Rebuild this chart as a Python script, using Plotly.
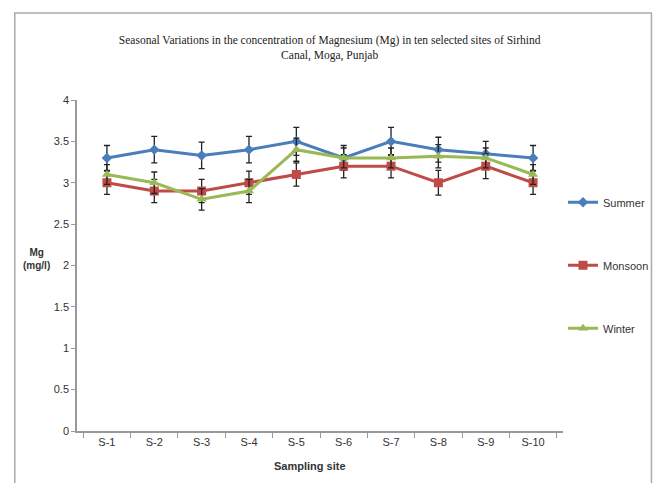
import plotly.graph_objects as go

sites = ["S-1", "S-2", "S-3", "S-4", "S-5", "S-6", "S-7", "S-8", "S-9", "S-10"]
summer = [3.30, 3.40, 3.33, 3.40, 3.50, 3.30, 3.50, 3.40, 3.35, 3.30]
monsoon = [3.00, 2.90, 2.90, 3.00, 3.10, 3.20, 3.20, 3.00, 3.20, 3.00]
winter = [3.10, 3.00, 2.80, 2.90, 3.40, 3.30, 3.30, 3.32, 3.30, 3.10]
summer_err = [0.15, 0.16, 0.16, 0.16, 0.17, 0.15, 0.17, 0.15, 0.15, 0.15]
monsoon_err = [0.14, 0.14, 0.14, 0.14, 0.14, 0.14, 0.14, 0.15, 0.15, 0.14]
winter_err = [0.12, 0.13, 0.13, 0.14, 0.14, 0.12, 0.12, 0.14, 0.12, 0.12]

series = [
    ("Summer", summer, summer_err, "#4a7ebb", "diamond", 8),
    ("Monsoon", monsoon, monsoon_err, "#be4b48", "square", 9),
    ("Winter", winter, winter_err, "#98b954", "triangle-up", 9),
]

fig = go.Figure()
for name, vals, err, col, sym, sz in series:
    fig.add_trace(go.Scatter(
        x=sites, y=vals, name=name, mode="lines+markers", legendgroup=name,
        line=dict(color=col, width=3),
        marker=dict(symbol=sym, size=sz, color=col),
        error_y=dict(type="data", array=err, visible=True, color="#222222",
                     thickness=1.3, width=3),
    ))

fig.update_layout(
    width=666, height=483,
    margin=dict(l=77, r=98, t=100, b=52),
    paper_bgcolor="white", plot_bgcolor="white",
    showlegend=True,
    legend=dict(x=1.0, xanchor="left", y=0.735, yanchor="top",
                font=dict(family="Liberation Sans Narrow, Liberation Sans, sans-serif", size=11, color="#333"),
                tracegroupgap=44, itemwidth=30, bgcolor="rgba(0,0,0,0)"),
    title=dict(text="Seasonal Variations in the concentration of Magnesium (Mg) in ten selected sites of Sirhind<br>Canal, Moga, Punjab",
               x=0.495, xanchor="center", y=0.908, yanchor="middle",
               font=dict(family="Liberation Serif, serif", size=11.5, color="#222")),
    font=dict(family="Liberation Sans Narrow, Liberation Sans, sans-serif", size=11, color="#333"),
)
fig.update_xaxes(
    type="category", showline=True, linecolor="#999", linewidth=1.5,
    ticks="outside", tickson="boundaries", ticklen=5, tickcolor="#999",
    showgrid=False, tickfont=dict(size=11),
)
fig.update_yaxes(
    range=[0, 4], dtick=0.5, showline=True, linecolor="#999", linewidth=1.5,
    ticks="outside", ticklen=4, tickcolor="#999", showgrid=False, zeroline=False,
    tickfont=dict(size=11),
)
fig.add_annotation(text="<b>Mg<br>(mg/l)</b>", xref="paper", yref="paper",
                   x=-0.115, y=0.52, showarrow=False, align="center",
                   font=dict(size=10, color="#333"))
fig.add_annotation(text="<b>Sampling site</b>", xref="paper", yref="paper",
                   x=0.48, y=-0.105, yanchor="middle", showarrow=False,
                   font=dict(size=11, color="#333"))
fig.add_shape(type="rect", xref="paper", yref="paper",
              x0=-0.128, x1=1.182, y0=-0.2, y1=1.263,
              line=dict(color="#aaa", width=1.5), fillcolor="rgba(0,0,0,0)", layer="below")

fig.write_html("out.html")
